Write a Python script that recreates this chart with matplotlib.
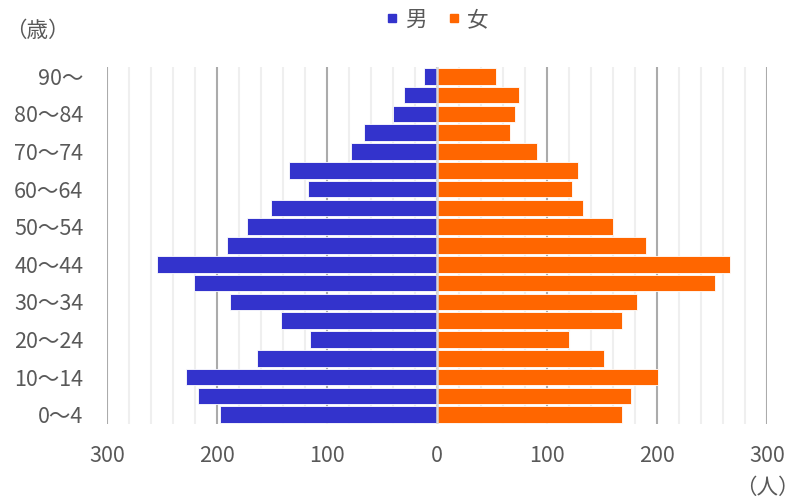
import matplotlib
matplotlib.use("Agg")
import matplotlib.pyplot as plt
from matplotlib.lines import Line2D
from matplotlib.ticker import FuncFormatter, MultipleLocator

plt.rcParams['font.family'] = ['Noto Sans CJK JP', 'DejaVu Sans']

# age groups from youngest to oldest
ages = ['0～4', '5～9', '10～14', '15～19', '20～24', '25～29', '30～34',
        '35～39', '40～44', '45～49', '50～54', '55～59', '60～64',
        '65～69', '70～74', '75～79', '80～84', '85～89', '90～']
male = [197, 217, 228, 164, 115, 142, 188, 221, 255, 191,
        173, 151, 117, 135, 78, 66, 40, 30, 12]
female = [168, 176, 201, 152, 120, 168, 182, 253, 266, 190,
          160, 133, 123, 128, 91, 66, 71, 75, 54]
x_ticks = [-300, -200, -100, 0, 100, 200, 300]

blue = '#3333CC'
orange = '#FF6600'
text_col = '#595959'

fig = plt.figure(figsize=(8.03, 5.0), dpi=100)
ax = fig.add_axes([107 / 803, 1 - 424 / 500, 660 / 803, 357 / 500])

y = list(range(len(ages)))
ax.barh(y, [-v for v in male], height=0.88, color=blue,
        edgecolor='white', linewidth=0.6, zorder=3)
ax.barh(y, female, height=0.88, color=orange,
        edgecolor='white', linewidth=0.6, zorder=3)

# vertical axis line at zero
ax.axvline(0, color='#d9d9d9', linewidth=1.8, zorder=4)

ax.set_xlim(-300, 300)
ax.set_ylim(-0.5, len(ages) - 0.5)

# gridlines: major every 100, minor every 20
ax.xaxis.set_minor_locator(MultipleLocator(20))
ax.set_xticks(x_ticks)
ax.grid(axis='x', which='minor', color='#efefef', linewidth=1.5, zorder=0)
ax.grid(axis='x', which='major', color='#ababab', linewidth=1.5, zorder=1)
ax.set_axisbelow(True)
ax.xaxis.set_major_formatter(FuncFormatter(lambda v, p: f'{abs(int(v))}'))

ax.set_yticks(y[::2])
ax.set_yticklabels(ages[::2])

ax.tick_params(axis='both', which='both', length=0, labelsize=15.5,
               labelcolor=text_col)
ax.tick_params(axis='x', pad=15)
ax.tick_params(axis='y', pad=17)
for s in ax.spines.values():
    s.set_visible(False)

# unit labels
fig.text(5 / 803, 1 - 31 / 500, '（歳）', fontsize=15.5, color=text_col,
         ha='left', va='center')
fig.text(800 / 803, 1 - 488 / 500, '（人）', fontsize=15.5, color=text_col,
         ha='right', va='center')

handles = [Line2D([], [], marker='s', linestyle='none', markersize=6,
                  color=blue, label='男'),
           Line2D([], [], marker='s', linestyle='none', markersize=6,
                  color=orange, label='女')]
fig.legend(handles=handles, loc='center', bbox_to_anchor=(437 / 803, 1 - 20 / 500),
           ncol=2, frameon=False, fontsize=15.5, labelcolor=text_col,
           handlelength=0.6, handletextpad=0.3, columnspacing=1.0)

fig.savefig('out.png', dpi=100)
